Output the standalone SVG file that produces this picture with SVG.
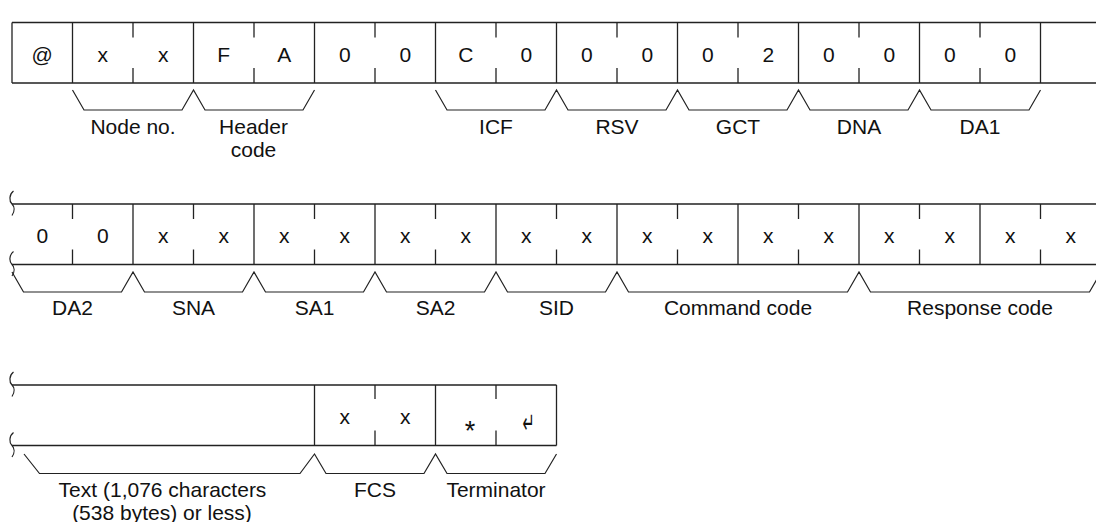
<svg xmlns="http://www.w3.org/2000/svg" xmlns:xlink="http://www.w3.org/1999/xlink" width="1096" height="522" viewBox="0 0 1096 522">
<style>
.ln{stroke:#222;stroke-width:1.3;fill:none}
.br{stroke:#222;stroke-width:1.2;fill:none}
.c{font-family:"Liberation Sans",Arial,sans-serif;font-size:21px;fill:#111;text-anchor:middle}
.l{font-family:"Liberation Sans",Arial,sans-serif;font-size:21px;fill:#111;text-anchor:middle}
</style>
<defs>
<path id="brk" d="M13.5,-13 C9,-9.5 9,-3 12,0 C14.5,2.5 15,7 12,11.5" stroke="#222" stroke-width="1.2" fill="none"/>
</defs>
<rect width="1096" height="522" fill="#fff"/>

<g id="row1">
<path class="ln" d="M12,22.5 H1096 M12,83 H1096 M12,22.5 V83 M72.5,22.5 V83 M193.5,22.5 V83 M314.5,22.5 V83 M435.5,22.5 V83 M556.5,22.5 V83 M677.5,22.5 V83 M798.5,22.5 V83 M919.5,22.5 V83 M1040.5,22.5 V83"/>
<path class="ln" d="M133,22.5 v15 M133,83 v-15 M254,22.5 v15 M254,83 v-15 M375,22.5 v15 M375,83 v-15 M496,22.5 v15 M496,83 v-15 M617,22.5 v15 M617,83 v-15 M738,22.5 v15 M738,83 v-15 M859,22.5 v15 M859,83 v-15 M980,22.5 v15 M980,83 v-15"/>
<g class="c">
<text x="42.25" y="61.5">@</text>
<text x="102.75" y="61.5">x</text>
<text x="163.25" y="61.5">x</text>
<text x="223.75" y="61.5">F</text>
<text x="284.25" y="61.5">A</text>
<text x="344.75" y="61.5">0</text>
<text x="405.25" y="61.5">0</text>
<text x="465.75" y="61.5">C</text>
<text x="526.25" y="61.5">0</text>
<text x="586.75" y="61.5">0</text>
<text x="647.25" y="61.5">0</text>
<text x="707.75" y="61.5">0</text>
<text x="768.25" y="61.5">2</text>
<text x="828.75" y="61.5">0</text>
<text x="889.25" y="61.5">0</text>
<text x="949.75" y="61.5">0</text>
<text x="1010.25" y="61.5">0</text>
</g>
</g>

<g id="row2">
<path class="ln" d="M12,204 H1096 M12,264.5 H1096 M133,204 V264.5 M254,204 V264.5 M375,204 V264.5 M496,204 V264.5 M617,204 V264.5 M738,204 V264.5 M859,204 V264.5 M980,204 V264.5"/>
<path class="ln" d="M72.5,204 v15 M72.5,264.5 v-15 M193.5,204 v15 M193.5,264.5 v-15 M314.5,204 v15 M314.5,264.5 v-15 M435.5,204 v15 M435.5,264.5 v-15 M556.5,204 v15 M556.5,264.5 v-15 M677.5,204 v15 M677.5,264.5 v-15 M798.5,204 v15 M798.5,264.5 v-15 M919.5,204 v15 M919.5,264.5 v-15 M1040.5,204 v15 M1040.5,264.5 v-15"/>
<use xlink:href="#brk" x="0" y="204"/>
<use xlink:href="#brk" x="0" y="264.5"/>
<g class="c">
<text x="42.25" y="243">0</text>
<text x="102.75" y="243">0</text>
<text x="163.25" y="243">x</text>
<text x="223.75" y="243">x</text>
<text x="284.25" y="243">x</text>
<text x="344.75" y="243">x</text>
<text x="405.25" y="243">x</text>
<text x="465.75" y="243">x</text>
<text x="526.25" y="243">x</text>
<text x="586.75" y="243">x</text>
<text x="647.25" y="243">x</text>
<text x="707.75" y="243">x</text>
<text x="768.25" y="243">x</text>
<text x="828.75" y="243">x</text>
<text x="889.25" y="243">x</text>
<text x="949.75" y="243">x</text>
<text x="1010.25" y="243">x</text>
<text x="1070.75" y="243">x</text>
</g>
</g>

<g id="row3">
<path class="ln" d="M12,385 H556.5 M12,445.5 H556.5 M314.5,385 V445.5 M435.5,385 V445.5 M556.5,385 V445.5"/>
<path class="ln" d="M375,385 v14 M375,445.5 v-15 M496,385 v14 M496,445.5 v-15"/>
<use xlink:href="#brk" x="0" y="385"/>
<use xlink:href="#brk" x="0" y="445.5"/>
<g class="c">
<text x="344.75" y="424">x</text>
<text x="405.25" y="424">x</text>
<text x="470" y="440" font-size="27">*</text>
<text transform="translate(528.5,433) scale(0.5,1)" x="0" y="0" font-size="29" font-family="DejaVu Sans, sans-serif">↵</text>
</g>
</g>

<g id="braces">
<path class="br" d="M72.5,90 L84,110 L182,110 L193.5,90 L205,110 L303,110 L314.5,90"/>
<path class="br" d="M435.5,90 L447,110 L545,110 L556.5,90 L568,110 L666,110 L677.5,90 L689,110 L787,110 L798.5,90 L810,110 L908,110 L919.5,90 L931,110 L1029,110 L1040.5,90"/>
<path class="br" d="M12,272 L23.5,292 L121.5,292 L133,272 L144.5,292 L242.5,292 L254,272 L265.5,292 L363.5,292 L375,272 L386.5,292 L484.5,292 L496,272 L507.5,292 L605.5,292 L617,272 L628.5,292 L847.5,292 L859,272 L870.5,292 L1089.5,292 L1101,272"/>
<path class="br" d="M24,454 L39.5,473.5 L300,473.5 L314.5,454 L326,473.5 L424,473.5 L435.5,454 L447,473.5 L545,473.5 L556.5,454"/>
</g>

<g id="labels" class="l">
<text id="node-no" x="133" y="134">Node no.</text>
<text id="header-code" x="253.5" y="134">Header<tspan x="253.5" y="156.5">code</tspan></text>
<text id="icf" x="496" y="134">ICF</text>
<text id="rsv" x="617" y="134">RSV</text>
<text id="gct" x="738" y="134">GCT</text>
<text id="dna" x="859" y="134">DNA</text>
<text id="da1" x="980" y="134">DA1</text>
<text id="da2" x="72.5" y="315">DA2</text>
<text id="sna" x="193.5" y="315">SNA</text>
<text id="sa1" x="314.5" y="315">SA1</text>
<text id="sa2" x="435.5" y="315">SA2</text>
<text id="sid" x="556.5" y="315">SID</text>
<text id="command-code" x="738" y="315">Command code</text>
<text id="response-code" x="980" y="315">Response code</text>
<text id="text" x="162.5" y="497">Text (1,076 characters<tspan x="162" y="519.5">(538 bytes) or less)</tspan></text>
<text id="fcs" x="375" y="497">FCS</text>
<text id="terminator" x="496" y="497">Terminator</text>
</g>
</svg>
